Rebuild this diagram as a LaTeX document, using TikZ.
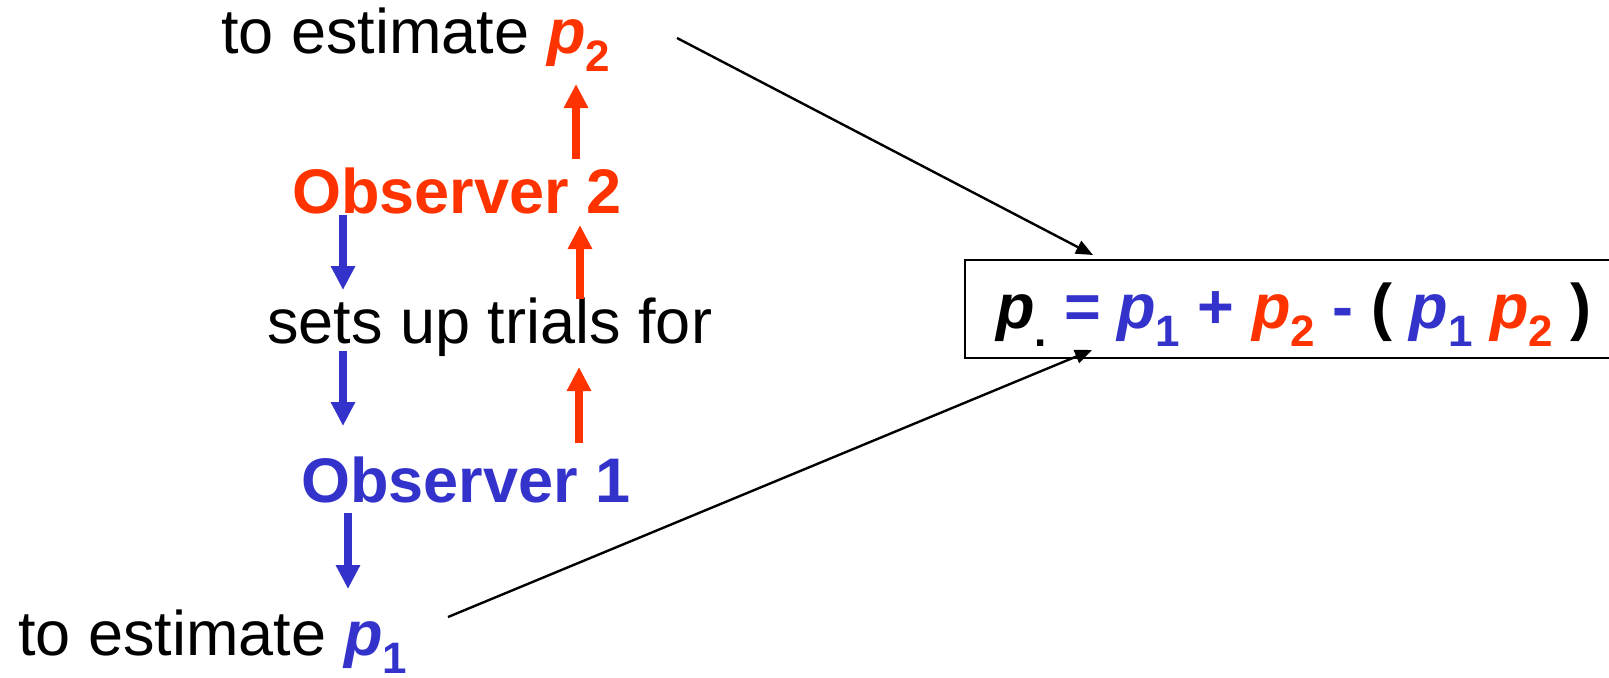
\documentclass[tikz,border=0pt]{standalone}
\usepackage{fontspec}
\setmainfont{Liberation Sans}
\usetikzlibrary{arrows.meta}
\definecolor{ored}{RGB}{255,51,0}
\definecolor{oblue}{RGB}{51,51,204}
\newcommand\mysub[1]{\raisebox{-9pt}{\fontsize{22}{22}\selectfont\bfseries #1}}
\newcommand\pp{\textbf{\textit{p}}}
\begin{document}
\begin{tikzpicture}[x=0.5pt,y=-0.5pt,
  txt/.style={anchor=base west, inner sep=0pt, font=\fontsize{31.5}{36}\selectfont},
  boldtxt/.style={anchor=base west, inner sep=0pt, font=\fontsize{31.5}{36}\selectfont\bfseries},
  redarrow/.style={ored, line width=4pt, -{Triangle[width=11.5pt,length=12pt]}},
  bluearrow/.style={oblue, line width=4pt, -{Triangle[width=11.5pt,length=12pt]}},
  link/.style={black, line width=1.2pt, -{Triangle[width=7pt,length=8.5pt]}}]
\useasboundingbox (0,0) rectangle (1609,677);
\clip (0,0) rectangle (1609,677);

% texts
\node[txt] (est2) at (221,53) {to estimate \textcolor{ored}{\pp\mysub{2}}};
\node[boldtxt, text=ored] (obs2) at (292,213) {Observer 2};
\node[txt] (sets) at (267,343) {sets up trials for};
\node[boldtxt, text=oblue] (obs1) at (301,502) {Observer 1};
\node[txt] (est1) at (18,655) {to estimate \textcolor{oblue}{\pp\mysub{1}}};

% box and formula
\node[draw, line width=1pt, inner sep=0pt, minimum width=328pt, minimum height=49pt, anchor=north west] (box) at (964,259) {};
\node[boldtxt] (formula) at (996,328) {\textit{p}\mysub{.} \textcolor{oblue}{=\hspace{8pt}\textit{p}\mysub{1} +} \textcolor{ored}{\textit{p}\mysub{2}} \textcolor{oblue}{-} ( \textcolor{oblue}{\textit{p}\mysub{1}} \textcolor{ored}{\textit{p}\mysub{2}} )};

% arrow end points
\coordinate (r1a) at (576,159); \coordinate (r1b) at (576,84);
\coordinate (r2a) at (580,299); \coordinate (r2b) at (580,225);
\coordinate (r3a) at (579,443); \coordinate (r3b) at (579,367);
\coordinate (b1a) at (343,215); \coordinate (b1b) at (343,290);
\coordinate (b2a) at (343,351); \coordinate (b2b) at (343,426);
\coordinate (b3a) at (348,513); \coordinate (b3b) at (348,589);
\coordinate (ltop) at (677,38); \coordinate (ltoptip) at (1093,255);
\coordinate (lbot) at (448,617); \coordinate (lbottip) at (1092,350);

\draw[redarrow] (r1a) -- (r1b);
\draw[redarrow] (r2a) -- (r2b);
\draw[redarrow] (r3a) -- (r3b);
\draw[bluearrow] (b1a) -- (b1b);
\draw[bluearrow] (b2a) -- (b2b);
\draw[bluearrow] (b3a) -- (b3b);
\draw[link] (ltop) -- (ltoptip);
\draw[link] (lbot) -- (lbottip);
\end{tikzpicture}
\end{document}
